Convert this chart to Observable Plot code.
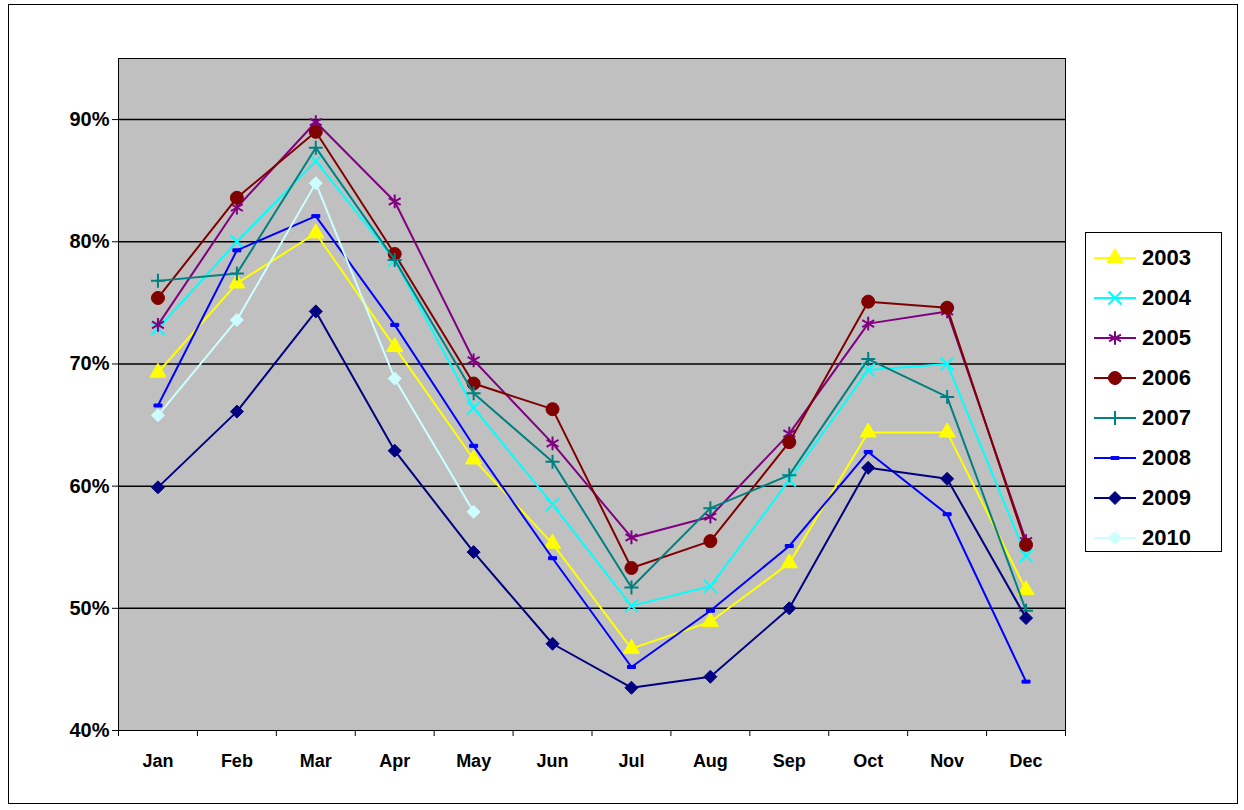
<!DOCTYPE html>
<html><head><meta charset="utf-8">
<script src="https://cdn.jsdelivr.net/npm/d3@7"></script>
<script src="https://cdn.jsdelivr.net/npm/@observablehq/plot@0.6"></script>
<style>
body{margin:0;background:#fff;font-family:"Liberation Sans",Arial,sans-serif}
#wrap{position:relative;width:1244px;height:810px}
#border{position:absolute;left:8px;top:4px;width:1230px;height:800px;border:1px solid #000;box-sizing:border-box}
#chart{position:absolute;left:0;top:0}
#legend{position:absolute;left:1085px;top:232px;width:137px;height:320px;border:1px solid #000;background:#fff;box-sizing:border-box;padding:5px 0 0 6px}
.row{display:flex;align-items:center;height:40px;font-weight:bold;font-size:22px}
</style></head><body>
<div id="wrap"><div id="border"></div><div id="chart"></div><div id="legend"></div></div>
<script>
const months = ["Jan","Feb","Mar","Apr","May","Jun","Jul","Aug","Sep","Oct","Nov","Dec"];
const years = ["2003","2004","2005","2006","2007","2008","2009","2010"];
const v2003 = [69.3,76.6,80.7,71.4,62.2,55.3,46.7,48.9,53.7,64.4,64.4,51.5];
const v2004 = [72.9,80.0,86.6,78.5,66.4,58.5,50.2,51.8,60.5,69.5,70.0,54.3];
const v2005 = [73.2,82.8,89.8,83.3,70.3,63.5,55.8,57.5,64.3,73.3,74.3,55.5];
const v2006 = [75.4,83.6,89.0,79.0,68.4,66.3,53.3,55.5,63.6,75.1,74.6,55.2];
const v2007 = [76.8,77.4,87.7,78.5,67.6,62.0,51.7,58.2,60.9,70.4,67.3,49.8];
const v2008 = [66.6,79.3,82.1,73.2,63.3,54.1,45.2,49.8,55.1,62.8,57.7,44.0];
const v2009 = [59.9,66.1,74.3,62.9,54.6,47.1,43.5,44.4,50.0,61.5,60.6,49.2];
const v2010 = [65.8,73.6,84.8,68.8,57.9];
const values = [v2003,v2004,v2005,v2006,v2007,v2008,v2009,v2010];
const colors = ["#ffff00","#00ffff","#800080","#800000","#008080","#0000ff","#000080","#ccffff"];

const dash = {draw(ctx){ ctx.moveTo(-4,-1.5); ctx.lineTo(4,-1.5); ctx.lineTo(4,1.5); ctx.lineTo(-4,1.5); ctx.closePath(); }};
const diamond = {draw(ctx){ ctx.moveTo(0,-6.5); ctx.lineTo(6.5,0); ctx.lineTo(0,6.5); ctx.lineTo(-6.5,0); ctx.closePath(); }};
const plus = {draw(ctx){ ctx.moveTo(-7,0); ctx.lineTo(7,0); ctx.moveTo(0,-7); ctx.lineTo(0,7); }};
const styles = [
  {symbol:d3.symbolTriangle, fill:true, r:6},
  {symbol:d3.symbolTimes, fill:false, r:6},
  {symbol:d3.symbolAsterisk, fill:false, r:6.5},
  {symbol:d3.symbolCircle, fill:true, r:6.5},
  {symbol:plus, fill:false, r:7},
  {symbol:dash, fill:true, r:4},
  {symbol:diamond, fill:true, r:6},
  {symbol:diamond, fill:true, r:6}
];

const data = years.flatMap((y,i) => values[i].map((v,j) => ({year:y, m:j, value:v})));

const marks = [
  Plot.frame({fill:"#c0c0c0", stroke:"#000"}),
  Plot.ruleY([50,60,70,80,90], {stroke:"#000", strokeWidth:1.5}),
  Plot.axisY({ticks:[40,50,60,70,80,90], tickFormat:d => d + "%", tickSize:6, fontSize:20, fontWeight:"bold", label:null}),
  Plot.axisX({ticks:d3.range(-0.5,12,1), tickFormat:() => "", tickSize:6, label:null}),
  Plot.axisX({ticks:d3.range(12), tickFormat:i => months[i], tickSize:0, fontSize:18, fontWeight:"bold", label:null, tickPadding:24})
];
years.forEach((y,i) => {
  const d = data.filter(r => r.year === y);
  const s = styles[i];
  marks.push(Plot.line(d, {x:"m", y:"value", stroke:colors[i], strokeWidth:2}));
  marks.push(Plot.dot(d, {x:"m", y:"value", symbol:() => s.symbol, r:s.r,
    fill: s.fill ? colors[i] : "none", stroke: colors[i], strokeWidth: s.fill ? 1 : 2}));
});

const chart = Plot.plot({
  width:1244, height:810,
  marginLeft:118, marginRight:179, marginTop:58, marginBottom:80,
  style:{background:"transparent", fontFamily:"Liberation Sans, Arial, sans-serif", color:"#000"},
  x:{domain:[-0.5,11.5]},
  y:{domain:[40,95]},
  symbol:{type:"identity"},
  marks
});
document.getElementById("chart").append(chart);

const leg = d3.select("#legend");
years.forEach((y,i) => {
  const row = leg.append("div").attr("class","row");
  const svg = row.append("svg").attr("width",46).attr("height",20);
  svg.append("line").attr("x1",2).attr("x2",44).attr("y1",10).attr("y2",10).attr("stroke",colors[i]).attr("stroke-width",2);
  const s = styles[i];
  svg.append("path").attr("transform","translate(23,10)")
    .attr("d", d3.symbol(s.symbol, Math.PI * s.r * s.r)())
    .attr("fill", s.fill ? colors[i] : "none").attr("stroke", colors[i]).attr("stroke-width", s.fill ? 1 : 2);
  row.append("span").style("margin-left","4px").text(y);
});
</script></body></html>
